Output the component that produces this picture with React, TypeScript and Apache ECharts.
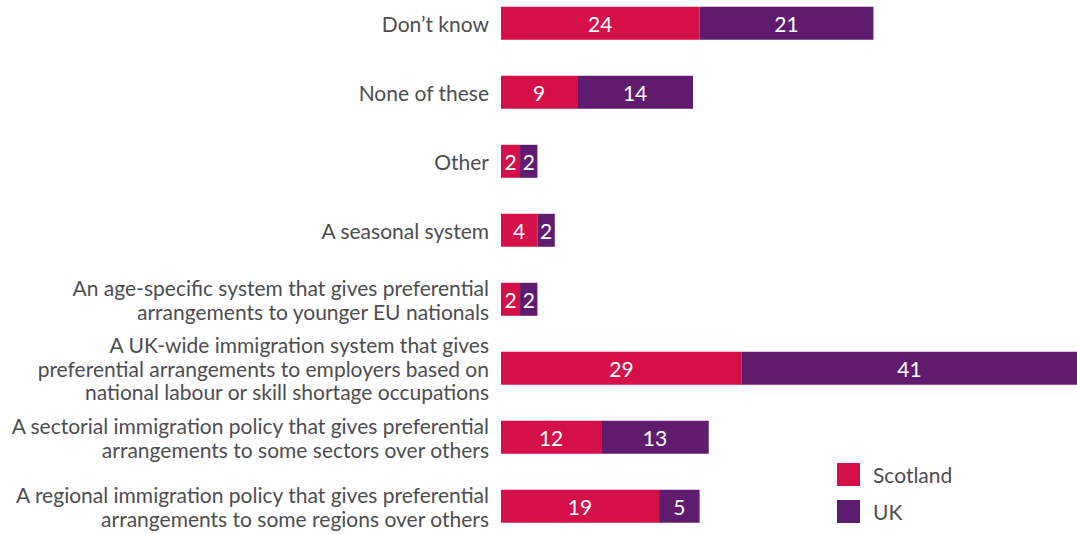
import React, { useEffect, useRef } from "react";
import * as echarts from "echarts";

const categories = [
  "Don’t know",
  "None of these",
  "Other",
  "A seasonal system",
  "An age-specific system that gives preferential\narrangements to younger EU nationals",
  "A UK-wide immigration system that gives\npreferential arrangements to employers based on\nnational labour or skill shortage occupations",
  "A sectorial immigration policy that gives preferential\narrangements to some sectors over others",
  "A regional immigration policy that gives preferential\narrangements to some regions over others",
];

const scotland = [24, 9.2, 2.3, 4.4, 2.3, 29.1, 12.1, 19.1];
const uk = [21, 14, 2.1, 2.1, 2.1, 40.5, 13, 4.9];

const seriesNames = ["Scotland", "UK"];
const colors = ["#D50F47", "#5F1C6E"];

const FONT = "Lato, 'Open Sans', sans-serif";
const TEXT = "#4D4D4F";

export default function App() {
  const ref = useRef<HTMLDivElement>(null);
  useEffect(() => {
    if (!ref.current) return;
    const chart = echarts.init(ref.current, undefined, { renderer: "svg" });
    const label = {
      show: true,
      position: "inside",
      color: "#ffffff",
      fontSize: 21,
      fontFamily: FONT,
      formatter: (p: any) => String(Math.round(p.value)),
    };
    chart.setOption({
      animation: false,
      textStyle: { fontFamily: FONT },
      grid: {
        left: 501,
        top: -11.2,
        height: 552,
        right: 0,
        outerBoundsMode: "none",
        containLabel: false,
      },
      xAxis: {
        type: "value",
        min: 0,
        max: 69.6,
        show: false,
      },
      yAxis: {
        type: "category",
        inverse: true,
        data: categories,
        axisLine: { show: false },
        axisTick: { show: false },
        axisLabel: {
          margin: 12,
          fontSize: 21,
          lineHeight: 23.5,
          color: TEXT,
          fontFamily: FONT,
          align: "right",
        },
      },
      legend: {
        orient: "vertical",
        left: 837,
        top: 463,
        padding: 0,
        itemWidth: 23,
        itemHeight: 23,
        itemGap: 14,
        icon: "rect",
        data: seriesNames,
        textStyle: { fontSize: 21, color: TEXT, fontFamily: FONT, padding: [0, 0, 0, 8] },
      },
      series: [
        {
          name: seriesNames[0],
          type: "bar",
          stack: "s",
          barWidth: 33,
          data: scotland,
          itemStyle: { color: colors[0] },
          label,
        },
        {
          name: seriesNames[1],
          type: "bar",
          stack: "s",
          barWidth: 33,
          data: uk,
          itemStyle: { color: colors[1] },
          label,
        },
      ],
    });
    return () => chart.dispose();
  }, []);
  return (
    <div
      ref={ref}
      style={{ position: "absolute", left: 0, top: 0, width: 1077, height: 534, background: "#fff" }}
    />
  );
}
